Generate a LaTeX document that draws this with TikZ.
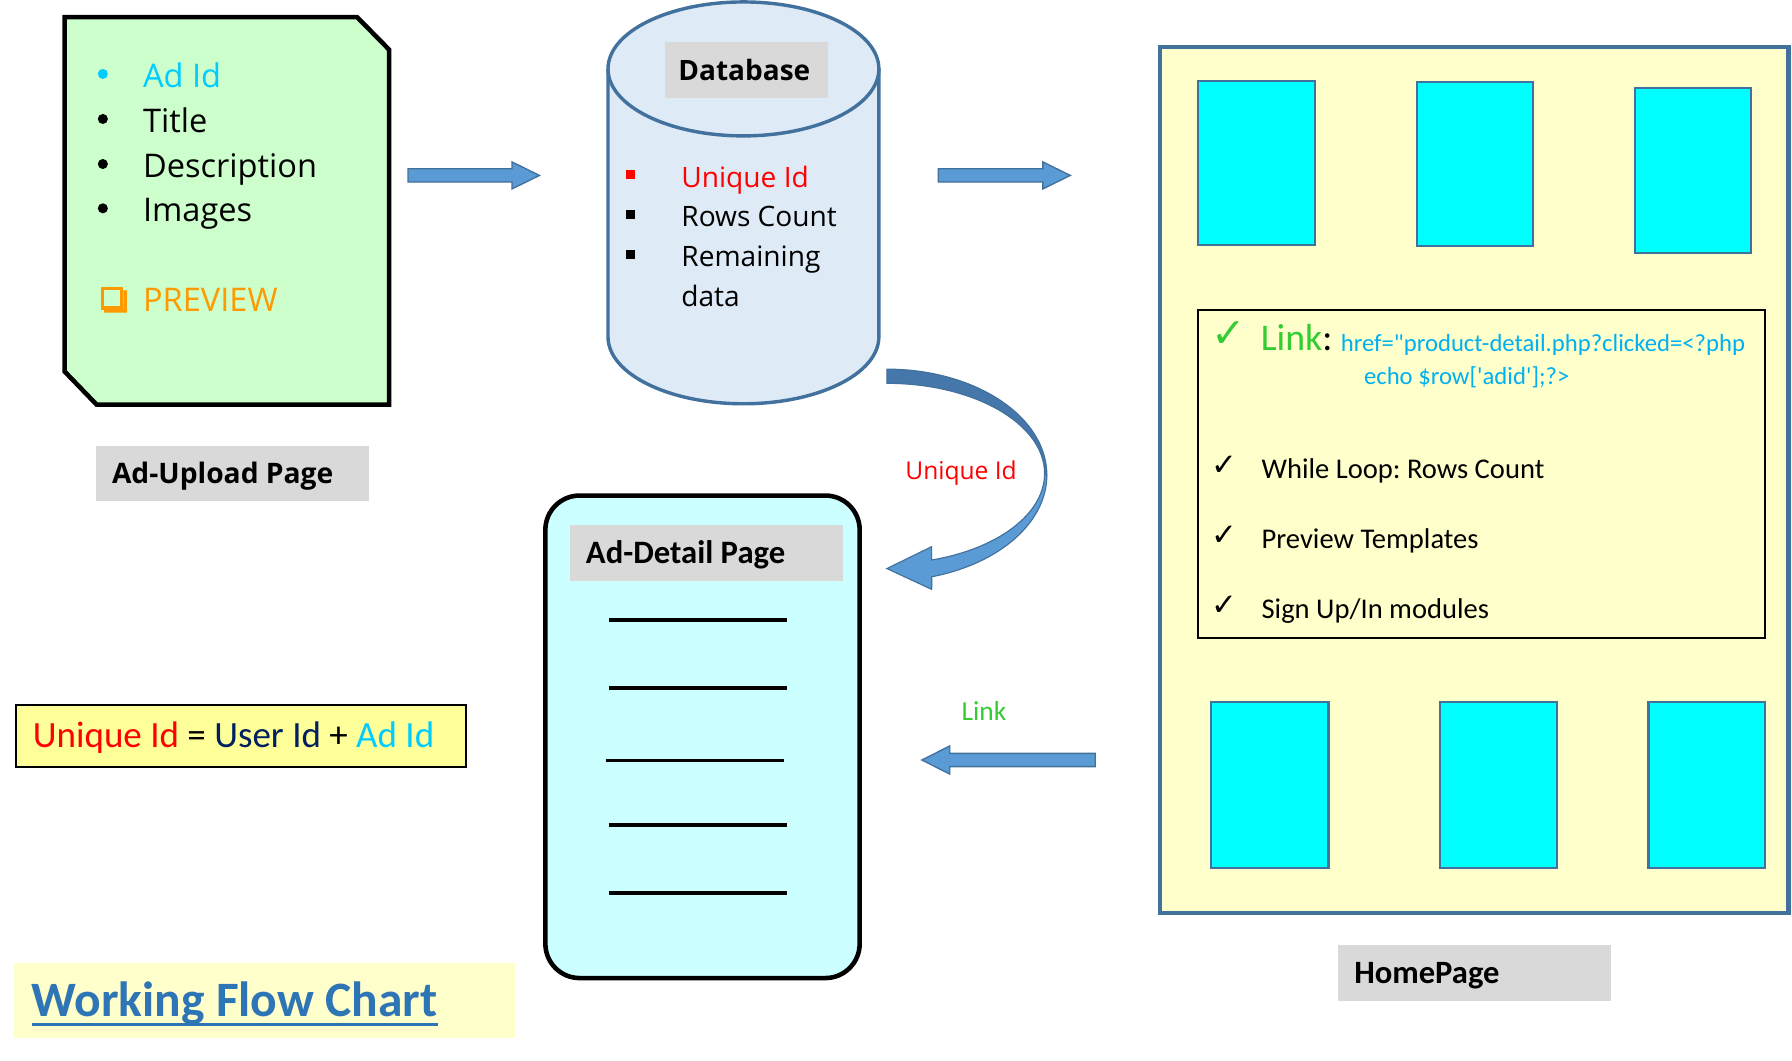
\documentclass[tikz,border=0pt]{standalone}
\usepackage{fontspec}
\setmainfont{Open Sans}
\newfontfamily\calib{Carlito}
\newfontfamily\djv{DejaVu Sans}
\usetikzlibrary{calc,fit}
\definecolor{dbfill}{HTML}{DEEBF7}
\definecolor{steel}{HTML}{41719C}
\definecolor{barrowfill}{HTML}{5B9BD5}
\definecolor{darkband}{HTML}{4677AA}
\definecolor{greenbox}{HTML}{CCFFCC}
\definecolor{adcyan}{HTML}{00CCFF}
\definecolor{hrefcyan}{HTML}{00B0F0}
\definecolor{orng}{HTML}{FF9900}
\definecolor{lbl}{HTML}{D9D9D9}
\definecolor{paleyel}{HTML}{FFFFCC}
\definecolor{eqyel}{HTML}{FFFF99}
\definecolor{navy}{HTML}{002060}
\definecolor{lnkgreen}{HTML}{33CC33}
\definecolor{detailfill}{HTML}{CCFFFF}
\definecolor{wfcblue}{HTML}{2E75B6}
\definecolor{tile}{HTML}{00FFFF}
\newcommand\fs[1]{\fontsize{#1pt}{#1pt}\selectfont}
\newcommand\rightblock[2]{%
  \draw[barrow] ($(#1)+(0,-5.8)$) -- ($(#2)+(-24,-5.8)$) -- ($(#2)+(-24,-11.8)$) -- (#2)
    -- ($(#2)+(-24,11.8)$) -- ($(#2)+(-24,5.8)$) -- ($(#1)+(0,5.8)$) -- cycle;}
\newcommand\leftblock[2]{%
  \draw[barrow] ($(#1)+(0,-5.8)$) -- ($(#2)+(24.3,-5.8)$) -- ($(#2)+(24.3,-12.3)$) -- (#2)
    -- ($(#2)+(24.3,12.3)$) -- ($(#2)+(24.3,5.8)$) -- ($(#1)+(0,5.8)$) -- cycle;}
\frenchspacing
\begin{document}
\begin{tikzpicture}[x=1pt,y=-1pt,
  txt/.style={inner sep=0pt, anchor=base west},
  box/.style={inner sep=0pt, outer sep=0pt},
  lblbox/.style={box, fill=lbl},
  tilebox/.style={box, fill=tile, draw=steel, line width=1.8pt},
  barrow/.style={fill=barrowfill, draw=steel, line width=1.2pt, line join=miter},
  ruleline/.style={line width=3.2pt},
  chk/.style={inner sep=0pt, anchor=center, font=\djv\fs{27}}]
\useasboundingbox (0,0) rectangle (1568,928);

% ---------- Ad-Upload page ----------
\draw[fill=greenbox, line width=4pt, line join=miter]
  (56.5,15) -- (312.5,15) -- (340.5,43.5) -- (340.5,354) -- (84.5,354) -- (56.5,325) -- cycle;
\coordinate (upload) at (198,185);
\fill[adcyan] (90,64.7) circle (4.4);
\fill (90,104.1) circle (4.4);
\fill (90,143.5) circle (4.4);
\fill (90,182.3) circle (4.4);
\node[txt, font=\fs{28.5}, text=adcyan] (t1) at (125,76.4) {Ad Id};
\node[txt, font=\fs{28.5}] (t2) at (125,115.8) {Title};
\node[txt, font=\fs{28.5}] (t3) at (125,155.2) {Description};
\node[txt, font=\fs{28.5}] (t4) at (125,194) {Images};
% shadowed square bullet
\fill[orng] (88,251) rectangle (108,271);
\fill[greenbox] (91,254) rectangle (105,268);
\fill[orng] (108,254) -- (111,254) -- (111,273.5) -- (91,273.5) -- (91,271) -- (108,271) -- cycle;
\node[txt, font=\fs{28.5}, text=orng] (t5) at (125,272.7) {PREVIEW};
\node[lblbox, fit={(84.4,390.3) (322.5,438.1)}] (uplabel) {};
\node[txt, font=\bfseries\fs{24.7}] at (97.8,423) {Ad-Upload Page};

% ---------- arrows top ----------
\coordinate (a1s) at (357,153.5);
\coordinate (a1e) at (472,153.5);
\rightblock{a1s}{a1e}
\coordinate (a2s) at (821,153.5);
\coordinate (a2e) at (936.5,153.5);
\rightblock{a2s}{a2e}

% ---------- Database cylinder ----------
\fill[dbfill] (532,60.3) rectangle (769,294.7);
\fill[dbfill] (650.5,294.7) ellipse [x radius=118.5pt, y radius=58.6pt];
\draw[steel, line width=3pt] (532,60.3) -- (532,294.7)
  arc[start angle=180, end angle=360, x radius=118.5pt, y radius=58.6pt] -- (769,60.3);
\draw[steel, line width=3pt, fill=dbfill] (650.5,60.3) ellipse [x radius=118.5pt, y radius=58.6pt];
\coordinate (db) at (650.5,180);
\node[lblbox, fit={(582,37) (724.5,85.5)}] (dblabel) {};
\node[inner sep=0pt, anchor=base, font=\bfseries\fs{24.5}] at (651.3,70.3) {Database};
\fill[red] (547.7,149) rectangle (555.6,157);
\fill (547.7,184) rectangle (555.6,192);
\fill (547.7,219) rectangle (555.6,227);
\node[txt, font=\fs{24.6}, text=red] at (596,164.1) {Unique Id};
\node[txt, font=\fs{24.6}] at (596,198.3) {Rows Count};
\node[txt, font=\fs{24.6}] at (596,233.4) {Remaining};
\node[txt, font=\fs{24.6}] at (596,267.9) {data};

% ---------- curved arrow ----------
\coordinate (c1) at (776,323);
\coordinate (c2) at (914,414.3);
\coordinate (ctip) at (776,497.5);
\fill[darkband, draw=steel, line width=1pt] (c1)
  arc[start angle=90, end angle=0, x radius=140pt, y radius=92.7pt] -- (c2)
  arc[start angle=0, end angle=90, x radius=138pt, y radius=78.9pt] -- cycle;
\fill[barrowfill, draw=steel, line width=1pt, line join=miter] (916,415.7)
  arc[start angle=0, end angle=-73.7, x radius=140pt, y radius=92.7pt]
  -- (815.2,515.7) -- (ctip) -- (815.2,478.3) -- (815.2,490)
  arc[start angle=-73.5, end angle=0, x radius=138pt, y radius=78.9pt] -- cycle;
\node[txt, font=\fs{21.5}, text=red] at (792,419.4) {Unique Id};

% ---------- Ad-Detail page ----------
\node[box, fit={(477.2,433.6) (752.2,855.8)}, draw, line width=4pt, rounded corners=30pt, fill=detailfill] (detail) {};
\node[lblbox, fit={(498.8,459.5) (737.6,508.1)}] (detlabel) {};
\node[txt, font=\calib\bfseries\fs{28.6}] at (512.5,492.9) {Ad-Detail Page};
\draw[ruleline] (532.7,542.5) -- (688.4,542.5);
\draw[ruleline] (532.7,602.1) -- (688.4,602.1);
\draw[ruleline] (530,665.5) -- (686,665.5);
\draw[ruleline] (532.7,722) -- (688.4,722);
\draw[ruleline] (532.7,781.6) -- (688.4,781.6);

% ---------- equation box ----------
\node[box, fit={(14,617) (408,671)}, draw, line width=2pt, fill=eqyel] (eqbox) {};
\node[txt, font=\calib\fs{32.4}] at (28.6,653.9)
  {\textcolor{red}{Unique Id} = \textcolor{navy}{User Id} + \textcolor{adcyan}{Ad Id}};

% ---------- Working Flow Chart ----------
\node[box, fit={(12.6,842.8) (450.7,908.6)}, fill=paleyel] (wfcbox) {};
\node[txt, font=\calib\bfseries\fs{43.3}, text=wfcblue] (wfct) at (27.6,889.8) {Working Flow Chart};
\draw[wfcblue, line width=2.6pt] ($(wfct.base west)+(0,6.5)$) -- ($(wfct.base east)+(0,6.5)$);

% ---------- HomePage ----------
\node[box, fit={(1015,41) (1565,799)}, draw=steel, line width=4pt, fill=paleyel] (home) {};
\node[tilebox, fit={(1048,71) (1150.7,214.7)}] (h1) {};
\node[tilebox, fit={(1240,71.5) (1341.6,215.3)}] (h2) {};
\node[tilebox, fit={(1430.5,76.7) (1532.5,221.7)}] (h3) {};
\node[tilebox, fit={(1060,614.5) (1162.4,759.8)}] (h4) {};
\node[tilebox, fit={(1259.6,614.5) (1362,759.8)}] (h5) {};
\node[tilebox, fit={(1442.4,614.5) (1544.7,759.8)}] (h6) {};
\node[box, fit={(1048.5,271.3) (1544.4,558.5)}, draw, line width=2pt] (inner) {};
\node[inner sep=0pt, anchor=center, font=\djv\fs{36}, text=lnkgreen] at (1075,293) {✓};
\node[txt, font=\calib\fs{33}] at (1103,306.8) {\textcolor{lnkgreen}{Link}:};
\node[txt, font=\calib\fs{21.6}, text=hrefcyan] at (1173,307.7)
  {href=\textquotedbl product-detail.php?clicked=<?php};
\node[txt, font=\calib\fs{21.6}, text=hrefcyan] at (1193.3,336)
  {echo \$row[\textquotesingle adid\textquotesingle];?>};
\node[chk] at (1071.7,407.6) {✓};
\node[chk] at (1071.7,468.9) {✓};
\node[chk] at (1071.7,530.1) {✓};
\node[txt, font=\calib\fs{25}] at (1103.7,418.5) {While Loop: Rows Count};
\node[txt, font=\calib\fs{25}] at (1103.7,479.8) {Preview Templates};
\node[txt, font=\calib\fs{25}] at (1103.7,541) {Sign Up/In modules};
\node[lblbox, fit={(1170.6,826.9) (1409.8,875.6)}] (homelabel) {};
\node[txt, font=\calib\bfseries\fs{28.5}] at (1184.8,860.4) {HomePage};

% ---------- Link arrow ----------
\coordinate (a3s) at (958.3,665);
\coordinate (a3e) at (806.7,665);
\leftblock{a3s}{a3e}
\node[txt, font=\calib\fs{24}, text=lnkgreen] at (841.2,630) {Link};
\end{tikzpicture}
\end{document}
